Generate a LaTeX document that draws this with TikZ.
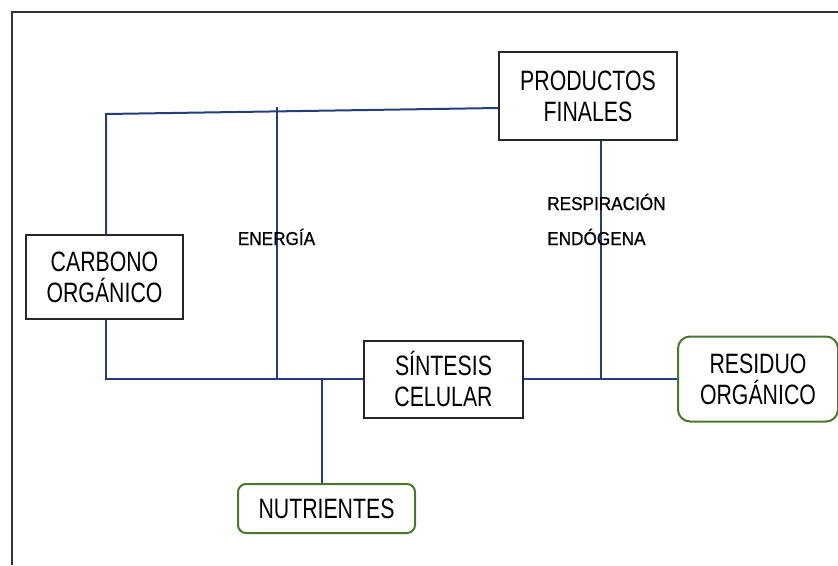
\documentclass[tikz,border=0pt]{standalone}
\usepackage{fontspec}
\setmainfont{Liberation Sans}[FakeStretch=0.76]
\newfontfamily\labelfont{Liberation Sans}[FakeStretch=0.92,FakeBold=0.8]
\definecolor{linkblue}{RGB}{38,62,120}
\definecolor{boxgreen}{RGB}{74,118,46}
\usetikzlibrary{positioning}

\begin{document}
\begin{tikzpicture}[x=0.75pt, y=-0.75pt,
            plainbox/.style={
                rectangle, draw=black!85, line width=1.5pt,
                inner sep=0pt, align=center,
                font=\fontsize{21}{23.25}\selectfont
            },
            roundbox/.style={plainbox, draw=boxgreen, rounded corners=9pt},
            link/.style={draw=linkblue, line width=1.5pt},
            tag/.style={font=\labelfont\fontsize{14}{16}\selectfont, inner sep=0pt},
            frameline/.style={draw=black!80, line width=1.2pt},
        ]
            \useasboundingbox (0,0) rectangle (838,565);
            \draw [frameline] (12,565) -- (12,12) -- (838,12);

            \node [plainbox, minimum width=133.5pt, minimum height=66pt] (productos) at (588,96) {PRODUCTOS\\FINALES};
            \node [plainbox, minimum width=117.75pt, minimum height=63pt] (carbono) at (104.5,277) {CARBONO\\ORGÁNICO};
            \node [plainbox, minimum width=119.25pt, minimum height=57.75pt] (sintesis) at (443.5,379) {SÍNTESIS\\CELULAR};
            \node [roundbox, minimum width=120pt, minimum height=63.75pt] (residuo) [ right=114.75pt of sintesis ] {RESIDUO\\ORGÁNICO};
            \node [roundbox, rounded corners=6pt, minimum width=132.75pt, minimum height=36.75pt] (nutrientes) at (326.5,508.5) {NUTRIENTES};

            \coordinate (topleft) at (106,114);
            \coordinate (botleft) at (106,379);
            \draw [link] (topleft |- carbono.north) -- (topleft) -- ([yshift=-9pt]productos.west);
            \draw [link] (botleft |- carbono.south) -- (botleft) -- (sintesis.west);

            \coordinate (energytop) at (277,107);
            \coordinate (energybot) at (277,379);
            \draw [link] (energytop) -- (energybot);
            \node [tag, anchor=base] (energia) at (276.5,245) {ENERGÍA};

            \coordinate (nutrijoin) at (322,378);
            \draw [link] (nutrijoin) -- (nutrijoin |- nutrientes.north);

            \draw [link] (sintesis.east) -- (residuo.west);
            \coordinate (respjoin) at (601,378);
            \draw [link] (respjoin |- productos.south) -- (respjoin);
            \node [tag, anchor=base west] (resp1) at (547,210) {RESPIRACIÓN};
            \node [tag, anchor=base west] (resp2) at (547,245) {ENDÓGENA};

        \end{tikzpicture}
\end{document}
